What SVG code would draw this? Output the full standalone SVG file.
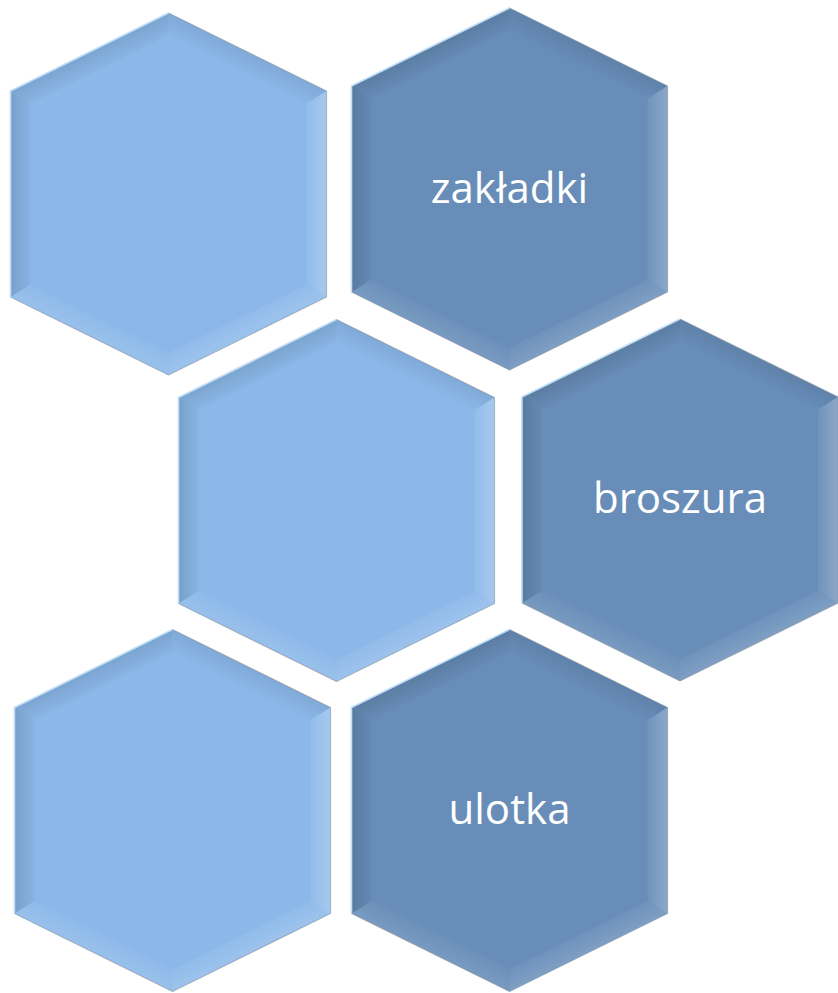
<svg xmlns="http://www.w3.org/2000/svg" xmlns:xlink="http://www.w3.org/1999/xlink" width="838" height="993" viewBox="0 0 838 993">
<style>
.light{fill:#8BB8E9}
.dark{fill:#678DB8}
.edge{fill:none;stroke:#7f8fa0;stroke-opacity:0.55;stroke-width:1.2;stroke-linejoin:round}
.hl{fill:none;stroke:#c4e4ff;stroke-width:1.6;stroke-opacity:0.9}
.lbl{font-family:"Open Sans","Liberation Sans",sans-serif;font-size:42px;fill:#ffffff;text-anchor:middle}
</style>
<defs>
<linearGradient id="gL" gradientUnits="userSpaceOnUse" x1="-158" y1="0" x2="-138" y2="0"><stop offset="0" stop-color="#000" stop-opacity="0.13"/><stop offset="1" stop-color="#000" stop-opacity="0.03"/></linearGradient>
<linearGradient id="gR" gradientUnits="userSpaceOnUse" x1="158" y1="0" x2="138" y2="0"><stop offset="0" stop-color="#fff" stop-opacity="0.24"/><stop offset="1" stop-color="#fff" stop-opacity="0.06"/></linearGradient>
<linearGradient id="gTL" gradientUnits="userSpaceOnUse" x1="-79" y1="-142" x2="-70.2" y2="-124.1"><stop offset="0" stop-color="#000" stop-opacity="0.11"/><stop offset="1" stop-color="#000" stop-opacity="0.02"/></linearGradient>
<linearGradient id="gTR" gradientUnits="userSpaceOnUse" x1="79" y1="-142" x2="70.2" y2="-124.1"><stop offset="0" stop-color="#000" stop-opacity="0.08"/><stop offset="1" stop-color="#000" stop-opacity="0.01"/></linearGradient>
<linearGradient id="gBR" gradientUnits="userSpaceOnUse" x1="79" y1="142" x2="70.2" y2="124.1"><stop offset="0" stop-color="#fff" stop-opacity="0.16"/><stop offset="1" stop-color="#fff" stop-opacity="0.05"/></linearGradient>
<linearGradient id="gBL" gradientUnits="userSpaceOnUse" x1="-79" y1="142" x2="-70.2" y2="124.1"><stop offset="0" stop-color="#fff" stop-opacity="0.12"/><stop offset="1" stop-color="#fff" stop-opacity="0.03"/></linearGradient>
<polygon id="hexOuter" points="0,-181 158,-103 158,103 0,181 -158,103 -158,-103"/>
<g id="bevel">
<polygon points="0,-181 0,-158.7 -138,-90.6 -158,-103" fill="url(#gTL)"/>
<polygon points="0,-181 158,-103 138,-90.6 0,-158.7" fill="url(#gTR)"/>
<polygon points="158,-103 158,103 138,90.6 138,-90.6" fill="url(#gR)"/>
<polygon points="158,103 0,181 0,158.7 138,90.6" fill="url(#gBR)"/>
<polygon points="0,181 -158,103 -138,90.6 0,158.7" fill="url(#gBL)"/>
<polygon points="-158,103 -158,-103 -138,-90.6 -138,90.6" fill="url(#gL)"/>
<use xlink:href="#hexOuter" class="edge"/>
<polyline points="-158,103 -158,-103 0,-181" class="hl"/>
</g>
</defs>
<g id="connectors"/>
<g id="hex1" transform="translate(168.5,194)">
<use xlink:href="#hexOuter" class="light"/>
<use xlink:href="#bevel"/>
</g>
<g id="hex2" transform="translate(509.5,189)">
<use xlink:href="#hexOuter" class="dark"/>
<use xlink:href="#bevel"/>
<text class="lbl" x="0" y="14">zakładki</text>
</g>
<g id="hex3" transform="translate(336.5,500.5)">
<use xlink:href="#hexOuter" class="light"/>
<use xlink:href="#bevel"/>
</g>
<g id="hex4" transform="translate(680,500)">
<use xlink:href="#hexOuter" class="dark"/>
<use xlink:href="#bevel"/>
<text class="lbl" x="0" y="13">broszura</text>
</g>
<g id="hex5" transform="translate(172.5,810.5)">
<use xlink:href="#hexOuter" class="light"/>
<use xlink:href="#bevel"/>
</g>
<g id="hex6" transform="translate(509.5,810.5)">
<use xlink:href="#hexOuter" class="dark"/>
<use xlink:href="#bevel"/>
<text class="lbl" x="0" y="13">ulotka</text>
</g>
</svg>
